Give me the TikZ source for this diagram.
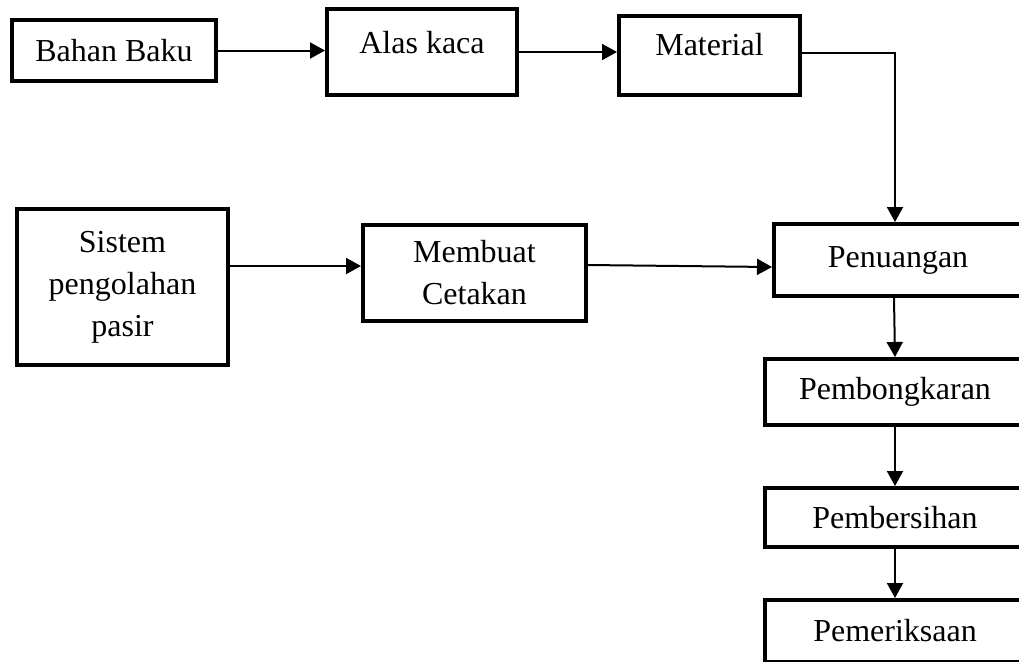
\documentclass[tikz,border=0pt]{standalone}
\usepackage{fontspec}
\setmainfont{Liberation Serif}
\usetikzlibrary{arrows.meta, positioning, calc}

\begin{document}
\begin{tikzpicture}[
  x=0.5pt, y=-0.5pt,
  every node/.style={font=\fontsize{16}{21}\selectfont},
  box/.style={draw, line width=2pt, fill=white, align=center, inner sep=2pt},
  arr/.style={-{Triangle[length=7.5pt, width=8pt]}, line width=1pt},
]
  \path[use as bounding box, clip] (0,0) rectangle (1019,661);

  % upper row
  \node[box, minimum width=102pt, minimum height=30.5pt] (bahan) at (114, 50.5) {Bahan Baku};
  \node[box, minimum width=95pt, minimum height=43pt, text depth=9.5pt] (alas) at (422, 52) {Alas kaca};
  \node[box, minimum width=90.5pt, minimum height=39.5pt, text depth=11.5pt] (material) at (709.5, 55.5) {Material};

  % middle row
  \node[box, minimum width=105.5pt, minimum height=78pt] (sistem) at (122.5, 287)
       {Sistem\\pengolahan\\pasir};
  \node[box, minimum width=111.5pt, minimum height=48pt] (membuat) at (474.5, 273)
       {Membuat\\Cetakan};

  % right column
  \node[box, minimum width=124pt, minimum height=36pt] (penuangan) at (898, 260) {Penuangan};
  \node[box, minimum width=130pt, minimum height=33pt] (pembongkaran) at (895, 392) {Pembongkaran};
  \node[box, minimum width=130pt, minimum height=29.5pt] (pembersihan) at (895, 517.5) {Pembersihan};
  \node[box, minimum width=130pt, minimum height=31pt] (pemeriksaan) at (895, 631) {Pemeriksaan};

  \draw[arr] (bahan) -- (bahan -| alas.west);
  \draw[arr] (alas) -- (alas -| material.west);
  \draw[arr] ([yshift=1.5pt]material.east) -| ([xshift=-1.5pt]penuangan.north);
  \draw[arr] ([yshift=3.5pt]membuat.west -| sistem.east) -- ([yshift=3.5pt]membuat.west);
  \draw[arr] ([yshift=4pt]membuat.east) -- ([yshift=-3.5pt]penuangan.west);
  \draw[arr] ([xshift=-2pt]penuangan.south) -- (pembongkaran.north);
  \draw[arr] (pembongkaran) -- (pembersihan);
  \draw[arr] (pembersihan) -- (pemeriksaan);
\end{tikzpicture}
\end{document}
